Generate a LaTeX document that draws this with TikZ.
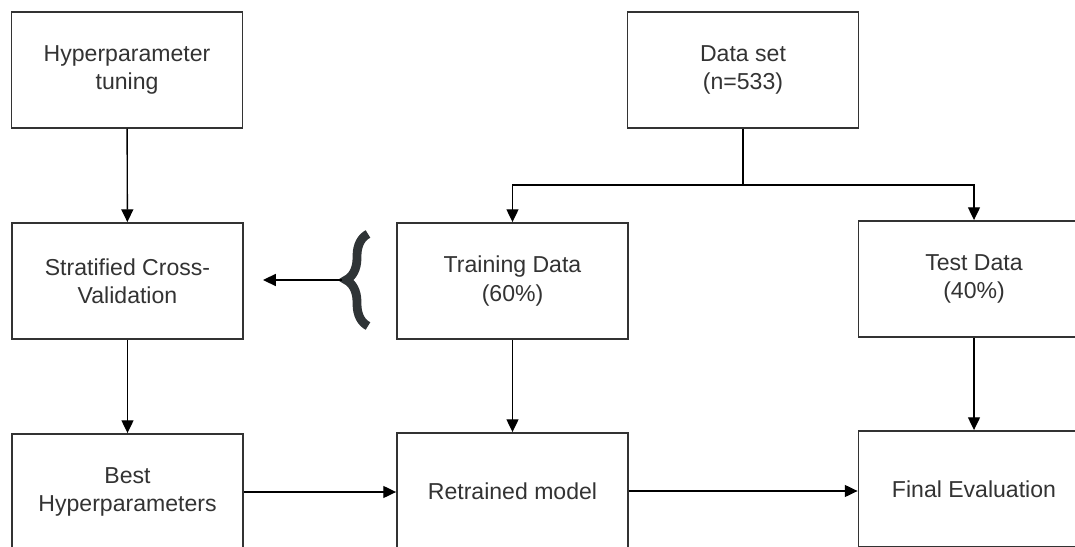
\documentclass[tikz,border=0pt]{standalone}
\usepackage{fontspec}
\setmainfont{Liberation Sans}
\usetikzlibrary{arrows.meta,decorations.pathreplacing}

\definecolor{boxgray}{HTML}{333333}
\definecolor{bracegray}{HTML}{2F3436}

\tikzset{
	stepbox/.style={draw=boxgray, line width=1.3pt, fill=white,
		minimum width=5.775cm, minimum height=2.9cm,
		text=boxgray, align=center, font=\fontsize{16.4}{20}\selectfont},
	flow/.style={->, line width=1pt}
}

\begin{document}
\begin{tikzpicture}[>={Triangle[length=0.32cm,width=0.3cm]}]
	% Riquadro della pagina
	\useasboundingbox (0,0) rectangle (26.875,13.65);
	
	% --- Blocchi ---
	\node[stepbox] (tuning) at (3.175, 11.91) {Hyperparameter\\tuning};
	\node[stepbox] (dataset) at (18.575, 11.91) {Data set\\(n=533)};
	
	\node[stepbox] (crossval) at (3.1875, 6.625) {Stratified Cross-\\Validation};
	\node[stepbox] (train) at (12.8125, 6.625) {Training Data\\(60\%)};
	\node[stepbox] (test) at (24.35, 6.675) {Test Data\\(40\%)};
	
	\node[stepbox] (best) at (3.1875, 1.35) {Best\\Hyperparameters};
	\node[stepbox] (retrain) at (12.8125, 1.375) {Retrained model};
	\node[stepbox] (final) at (24.35, 1.425) {Final Evaluation};
	
	% --- Frecce ---
	\draw[flow] (tuning) -- (crossval);
	\draw[flow] (crossval) -- (best);
	
	% Suddivisione del data set
	\coordinate (split) at (18.575, 9.025);
	\draw[line width=1pt] (dataset) -- (split);
	\draw[flow] (split) -| (train.north);
	\draw[flow] (split) -| (test.north);
	
	\draw[flow] (train) -- (retrain);
	\draw[flow] (test) -- (final);
	
	\draw[flow] (best.east) -- (best.east -| retrain.west);
	\draw[flow] (retrain.east) -- (retrain.east -| final.west);
	
	% Parentesi graffa e freccia verso la cross-validation
	\draw[bracegray, line width=0.22cm, decorate,
		decoration={brace, amplitude=0.55cm, aspect=0.5}]
		(9.2, 5.5) -- (9.2, 7.8);
	\coordinate (bracetip) at (8.55, 6.65);
	\coordinate (cvin) at (6.575, 6.65);
	\draw[flow] (bracetip) -- (cvin);
\end{tikzpicture}
\end{document}
